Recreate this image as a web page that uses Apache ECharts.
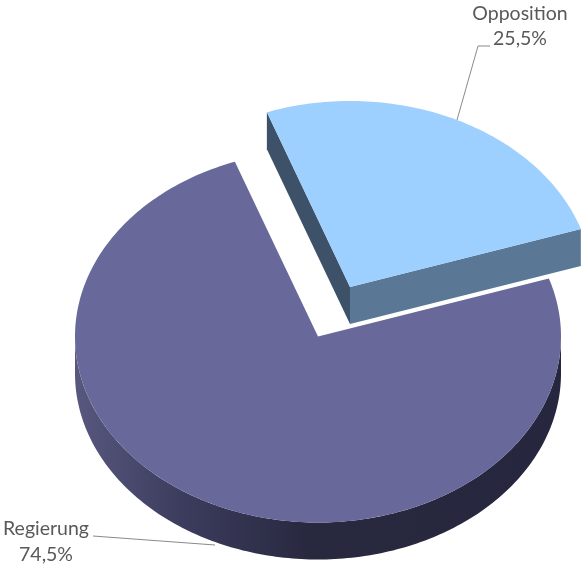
<!DOCTYPE html>
<html>
<head>
<meta charset="utf-8">
<style>html,body{margin:0;padding:0;background:#fff}#c{width:581px;height:565px}</style>
<script src="https://cdn.jsdelivr.net/npm/echarts@6/dist/echarts.min.js"></script>
</head>
<body>
<div id="c"></div>
<script>
const categories = ['Regierung', 'Opposition'];
const shareValues = [74.5, 25.5];

const START_DEG = 71.8;
const RX = 243, RY = 186, DEPTH = 37;
const CENTERS = [[318, 336.5], [350, 287]];
const TOP_COLORS = ['#69689a', '#9dcfff'];
const FACE_RIGHT = '#5a7795', FACE_LEFT = '#3d5269';
const LEADERS = [
  [[93, 536], [215, 545]],
  [[457, 120], [478, 46], [490, 46]]
];
const LABELS = [[46, 529, 555], [520, 14, 39]];
const TEXT = '#595959', LINE = '#8a8a8a';
const FONT = '19.5px Lato';
const total = shareValues.reduce((a, b) => a + b, 0);

function pt(c, deg, dy) {
  const r = deg * Math.PI / 180;
  return [c[0] + RX * Math.sin(r), c[1] - RY * Math.cos(r) + (dy || 0)];
}
function arc(c, a, b, dy) {
  const pts = [];
  const n = Math.max(2, Math.ceil(Math.abs(b - a)));
  for (let i = 0; i <= n; i++) pts.push(pt(c, a + (b - a) * i / n, dy));
  return pts;
}

function renderItem(params, api) {
  const i = params.dataIndex;
  let before = 0;
  for (let k = 0; k < i; k++) before += shareValues[k];
  const a0 = START_DEG + before / total * 360;
  const a1 = a0 + api.value(1) / total * 360;
  const c = CENTERS[i];
  const children = [];

  if (i === 0) {
    const wa = Math.max(a0, 90), wb = Math.min(a1, 270);
    const front = arc(c, wa, wb, 0).concat(arc(c, wb, wa, DEPTH));
    children.push({
      type: 'polygon', shape: { points: front },
      style: {
        fill: {
          type: 'linear', x: 1, y: 0, x2: 0, y2: 0,
          colorStops: [
            { offset: 0, color: '#26273e' },
            { offset: 0.52, color: '#28293f' },
            { offset: 0.78, color: '#3c3c5e' },
            { offset: 1, color: '#58587f' }
          ]
        }
      }
    });
  } else {
    const apex = c, apexB = [c[0], c[1] + DEPTH];
    const L = pt(c, a0), LB = pt(c, a0, DEPTH);
    const R = pt(c, a1), RB = pt(c, a1, DEPTH);
    children.push({ type: 'polygon', shape: { points: [L, LB, apexB, apex] }, style: { fill: FACE_LEFT } });
    children.push({ type: 'polygon', shape: { points: [apex, R, RB, apexB] }, style: { fill: FACE_RIGHT } });
  }

  children.push({
    type: 'polygon',
    shape: { points: [c].concat(arc(c, a0, a1, 0)) },
    style: { fill: TOP_COLORS[i] }
  });

  children.push({
    type: 'polyline', shape: { points: LEADERS[i] },
    style: { stroke: LINE, lineWidth: 1, fill: null }
  });

  const l = LABELS[i];
  children.push({
    type: 'text', x: l[0], y: l[1],
    style: { text: categories[i], fill: TEXT, font: FONT, align: 'center', verticalAlign: 'middle' }
  });
  children.push({
    type: 'text', x: l[0], y: l[2],
    style: { text: String(api.value(1)).replace('.', ',') + '%', fill: TEXT, font: FONT, align: 'center', verticalAlign: 'middle' }
  });
  return { type: 'group', children };
}

const chart = echarts.init(document.getElementById('c'), null, { renderer: 'canvas' });
chart.setOption({
  animation: false,
  backgroundColor: '#ffffff',
  series: [{
    type: 'custom',
    coordinateSystem: 'none',
    renderItem,
    silent: true,
    data: categories.map((n, i) => [n, shareValues[i]])
  }]
});
</script>
</body>
</html>
